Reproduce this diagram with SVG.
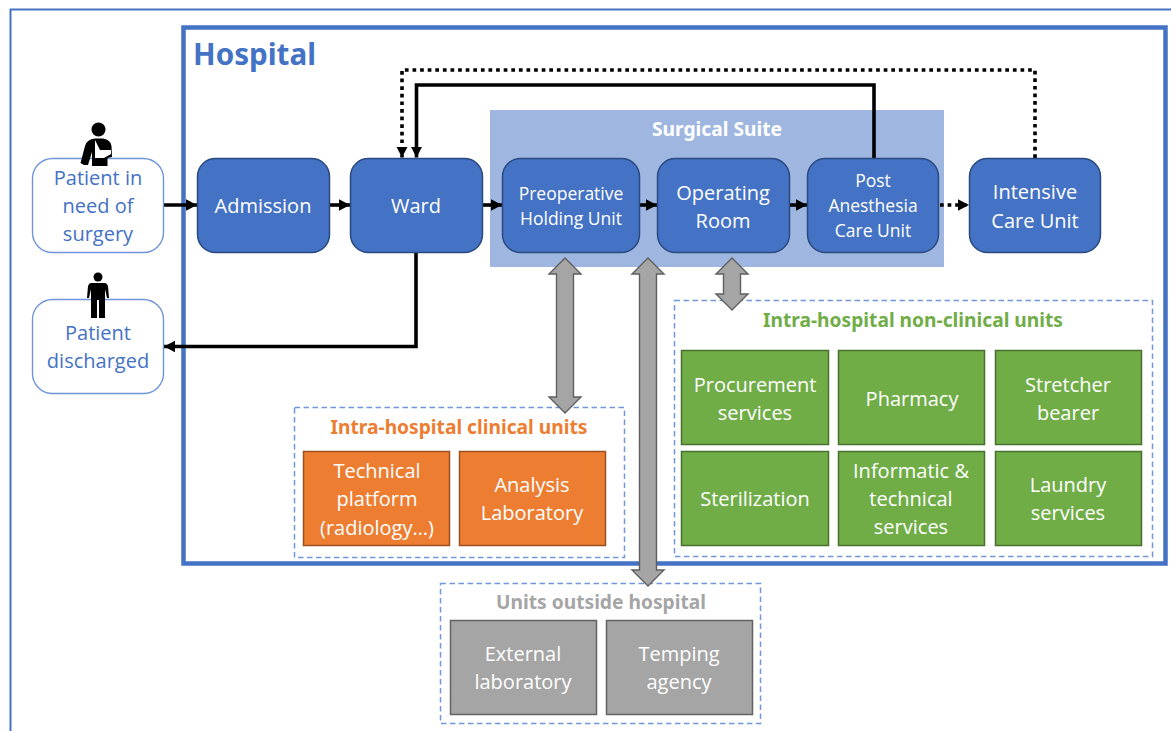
<svg xmlns="http://www.w3.org/2000/svg" width="1171" height="731" viewBox="0 0 1171 731">
<style>
text{font-family:"Open Sans","Noto Sans","Liberation Sans",sans-serif;text-anchor:middle}
.w{fill:#fff;font-size:20px}
.s{font-size:17.5px}
.b{fill:#4472c4;font-size:20px}
.h{font-weight:700;font-family:"Noto Sans","Open Sans",sans-serif;font-size:19.2px}
.blue{fill:#4472c4;stroke:#2a4a80;stroke-width:1.5}
.pat{fill:#fff;stroke:#6d95d8;stroke-width:1.4}
.g{fill:#70ad47;stroke:#48702e;stroke-width:1.5}
.o{fill:#ed7d31;stroke:#9c5020;stroke-width:1.5}
.y{fill:#a5a5a5;stroke:#636363;stroke-width:1.5}
.d{fill:none;stroke:#6f97dd;stroke-width:1.5;stroke-dasharray:5.5 3.5}
.c{fill:none;stroke:#000;stroke-width:3.6}
.dot{stroke-dasharray:3.7 3.9}
.da{fill:#a5a5a5;stroke:#5f5f5f;stroke-width:1.4}
</style>
<defs>
<marker id="a" markerUnits="userSpaceOnUse" markerWidth="13" markerHeight="13" refX="11" refY="6.500" orient="auto"><path d="M0,0.800 L11,6.500 L0,12.200 Z" fill="#000"/></marker>
</defs>
<rect width="1171" height="731" fill="#fff"/>
<path id="frame" d="M10.500,731 V9.500 H1171" fill="none" stroke="#4472c4" stroke-width="2"/>
<g id="hospital">
<rect x="183.500" y="27.500" width="982" height="536" fill="#fff" stroke="#4472c4" stroke-width="4.500"/>
<text x="254.500" y="65" style="font-family:'Noto Sans','Open Sans',sans-serif;font-weight:700;font-size:29.600px;fill:#4472c4">Hospital</text>
</g>
<g id="surgical-suite">
<rect x="490" y="110" width="454" height="157" fill="#9fb7e0"/>
<text x="717" y="136" class="h" fill="#fff">Surgical Suite</text>
</g>
<g id="dashed-groups">
<rect class="d" x="294.500" y="407.500" width="330" height="150"/>
<rect class="d" x="674.500" y="300.500" width="478" height="256"/>
<rect class="d" x="440.500" y="583.500" width="320" height="140"/>
</g>
<g id="connectors">
<path class="c" d="M164,205 H197" marker-end="url(#a)"/>
<path class="c" d="M329,205 H350" marker-end="url(#a)"/>
<path class="c" d="M482,205 H502" marker-end="url(#a)"/>
<path class="c" d="M640,205 H657" marker-end="url(#a)"/>
<path class="c" d="M789,205 H807" marker-end="url(#a)"/>
<path class="c dot" d="M940,205 H969" marker-end="url(#a)"/>
<path class="c" d="M874,158 V85 H416.500 V157.500" marker-end="url(#a)"/>
<path class="c dot" d="M1035,158 V70 H402 V157.500" marker-end="url(#a)"/>
<path class="c" d="M416,252 V346.500 H164" marker-end="url(#a)"/>
</g>
<g id="patient-need">
<rect class="pat" x="32.500" y="158.500" width="131" height="94" rx="20"/>
<text class="b" x="98" y="185">Patient in</text><text class="b" x="98" y="213">need of</text><text class="b" x="98" y="241">surgery</text>
<g id="icon-injured"><circle cx="98.500" cy="129.500" r="7"/><path d="M84,165 L80.500,163 L85,146 Q87,139 95,138.500 L103,138.500 Q111,140 111.500,146 L112,157 L107.500,158 L107.500,166 H92 L92,152 L88,165 Z"/><path d="M95,140 L100,150 L111,150 L111,154 L104,158 L95,158 Z" fill="#fff"/></g>
</g>
<g id="patient-discharged">
<rect class="pat" x="32.500" y="299.500" width="131" height="94" rx="20"/>
<text class="b" x="98" y="340">Patient</text><text class="b" x="98" y="368">discharged</text>
<g id="icon-person"><circle cx="98" cy="277" r="4.500"/><path d="M91,283 H105 Q107,283 108,286 L109,298 L107,298 L105,289 L105,318 L99,318 L99,300 L97,300 L97,318 L91,318 L91,289 L89,298 L87,298 L88,286 Q89,283 91,283 Z"/></g>
</g>
<g id="admission"><rect class="blue" x="197.500" y="158.500" width="132" height="94" rx="18"/><text class="w" x="263" y="213">Admission</text></g>
<g id="ward"><rect class="blue" x="350.500" y="158.500" width="132" height="94" rx="18"/><text class="w" x="416" y="213">Ward</text></g>
<g id="preop"><rect class="blue" x="502.500" y="158.500" width="137" height="94" rx="18"/><text class="w s" x="571" y="200">Preoperative</text><text class="w s" x="571" y="225">Holding Unit</text></g>
<g id="or"><rect class="blue" x="657.500" y="158.500" width="132" height="94" rx="18"/><text class="w" x="723" y="200">Operating</text><text class="w" x="723" y="228">Room</text></g>
<g id="pacu"><rect class="blue" x="807.500" y="158.500" width="131" height="94" rx="18"/><text class="w s" x="873" y="187">Post</text><text class="w s" x="873" y="212">Anesthesia</text><text class="w s" x="873" y="237">Care Unit</text></g>
<g id="icu"><rect class="blue" x="969.500" y="158.500" width="131" height="94" rx="18"/><text class="w" x="1035" y="199">Intensive</text><text class="w" x="1035" y="228">Care Unit</text></g>
<g id="double-arrows">
<path class="da" d="M565,258 L581,274 L573.500,274 V397 L581,397 L565,413 L549,397 L556.500,397 V274 L549,274 Z"/>
<path class="da" d="M648,258 L664,274 L656.500,274 V570 L664,570 L648,586 L632,570 L639.500,570 V274 L632,274 Z"/>
<path class="da" d="M732,258 L748,274 L740.500,274 V294 L748,294 L732,310 L716,294 L723.500,294 V274 L716,274 Z"/>
</g>
<g id="nonclinical">
<text class="h" x="913" y="327" fill="#70ad47">Intra-hospital non-clinical units</text>
<g id="procurement"><rect class="g" x="681.500" y="350.500" width="147" height="94"/><text class="w" x="755" y="392">Procurement</text><text class="w" x="755" y="420">services</text></g>
<g id="pharmacy"><rect class="g" x="838.500" y="350.500" width="146" height="94"/><text class="w" x="912" y="406">Pharmacy</text></g>
<g id="stretcher"><rect class="g" x="995.500" y="350.500" width="146" height="94"/><text class="w" x="1068" y="392">Stretcher</text><text class="w" x="1068" y="420">bearer</text></g>
<g id="sterilization"><rect class="g" x="681.500" y="451.500" width="147" height="94"/><text class="w" x="755" y="506">Sterilization</text></g>
<g id="informatic"><rect class="g" x="838.500" y="451.500" width="146" height="94"/><text class="w" x="911" y="478">Informatic &amp;</text><text class="w" x="911" y="506">technical</text><text class="w" x="911" y="534">services</text></g>
<g id="laundry"><rect class="g" x="995.500" y="451.500" width="146" height="94"/><text class="w" x="1068" y="492">Laundry</text><text class="w" x="1068" y="520">services</text></g>
</g>
<g id="clinical">
<text class="h" x="459" y="434" fill="#ed7d31">Intra-hospital clinical units</text>
<g id="technical"><rect class="o" x="303.500" y="451.500" width="146" height="94"/><text class="w" x="377" y="478">Technical</text><text class="w" x="377" y="506">platform</text><text class="w" x="377" y="535">(radiology…)</text></g>
<g id="analysis"><rect class="o" x="459.500" y="451.500" width="146" height="94"/><text class="w" x="532" y="492">Analysis</text><text class="w" x="532" y="520">Laboratory</text></g>
</g>
<g id="outside">
<text class="h" x="601" y="609" fill="#a5a5a5">Units outside hospital</text>
<g id="external"><rect class="y" x="450.500" y="620.500" width="146" height="94"/><text class="w" x="523" y="661">External</text><text class="w" x="523" y="689">laboratory</text></g>
<g id="temping"><rect class="y" x="606.500" y="620.500" width="146" height="94"/><text class="w" x="679" y="661">Temping</text><text class="w" x="679" y="689">agency</text></g>
</g>
</svg>
